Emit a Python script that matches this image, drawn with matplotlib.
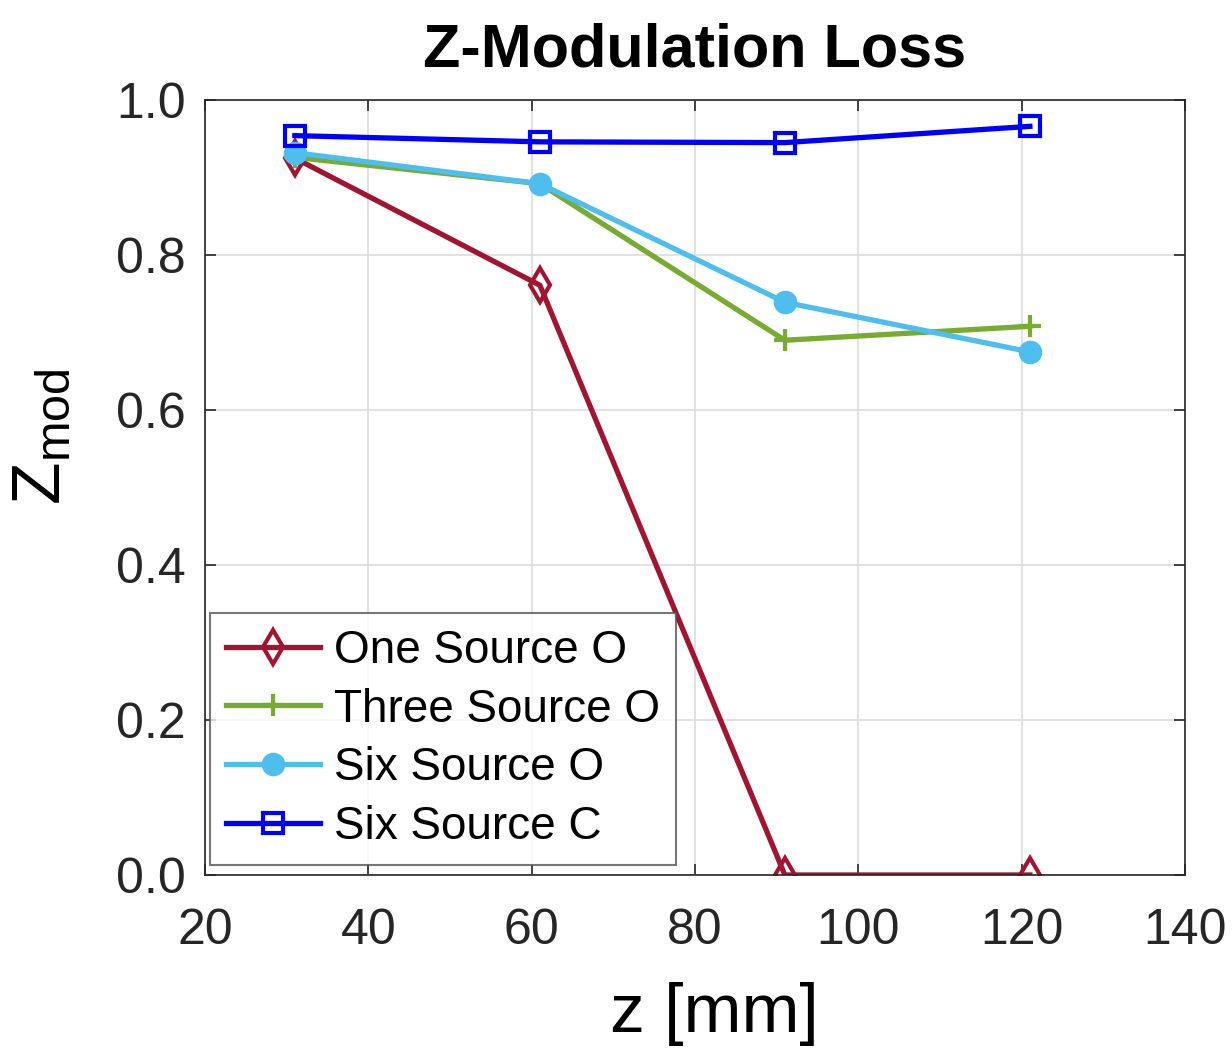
import numpy as np
import matplotlib.pyplot as plt

# data
z_mm = [31, 61, 91, 121]
one_src_o = [0.925, 0.761, 0.0, 0.0]
three_src_o = [0.926, 0.892, 0.690, 0.708]
six_src_o = [0.932, 0.892, 0.739, 0.675]
six_src_c = [0.954, 0.946, 0.945, 0.966]

labels = ['One Source O', 'Three Source O', 'Six Source O', 'Six Source C']
colors = ['#A2142F', '#77AC30', '#4DBEEE', '#0000FF']
markers = ['d', '+', 'o', 's']

plt.rcParams['font.family'] = ['Liberation Sans', 'DejaVu Sans']

fig = plt.figure(figsize=(12.32, 10.57), dpi=100)
ax = fig.add_axes([0.1664, 0.1722, 0.7955, 0.7332])

series = [one_src_o, three_src_o, six_src_o, six_src_c]
sizes = [17, 16, 14, 14]
for i in range(len(series)):
    mfc = colors[i] if markers[i] == 'o' else 'none'
    ax.plot(z_mm, series[i], color=colors[i], lw=3.8, marker=markers[i],
            ms=sizes[i], mfc=mfc, mec=colors[i], mew=3, label=labels[i])

ax.set_xlim(20, 140)
ax.set_ylim(0, 1)
ax.set_xticks(np.arange(20, 141, 20))
ax.set_yticks(np.arange(0, 1.01, 0.2))
ax.set_yticklabels(['%.1f' % v for v in np.arange(0, 1.01, 0.2)])
ax.grid(True, color='#dddddd', lw=1.2)
ax.set_axisbelow(True)
ax.tick_params(direction='in', length=8, width=1.2, top=True, right=True,
               labelsize=36, colors='#262626')
ax.tick_params(axis='x', pad=24)
ax.tick_params(axis='y', pad=14)
for s in ax.spines.values():
    s.set_color('#262626')
    s.set_linewidth(1.2)

ax.set_title('Z-Modulation Loss', fontsize=44, fontweight='bold', pad=24)
ax.set_xlabel('z [mm]', fontsize=50)
ax.xaxis.set_label_coords(0.52, -0.138)
ax.set_ylabel(r'$\mathregular{Z_{mod}}$', fontsize=50)
ax.yaxis.set_label_coords(-0.133, 0.565)

leg = ax.legend(loc='lower left', bbox_to_anchor=(0.005, 0.013), fontsize=33,
                frameon=True, fancybox=False, edgecolor='#555555',
                handlelength=2.05, handletextpad=0.3, borderpad=0.35,
                labelspacing=0.32, borderaxespad=0.0)
leg.get_frame().set_linewidth(1.5)

fig.savefig('out.png', dpi=100)
